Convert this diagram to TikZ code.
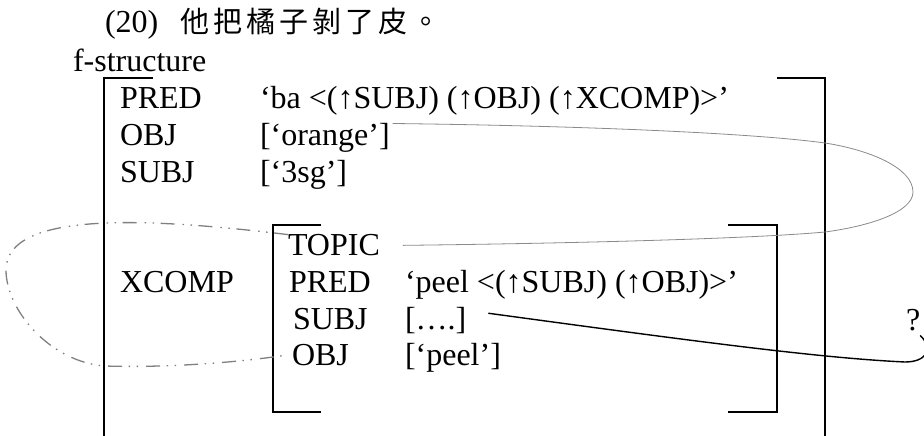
\documentclass[tikz,border=0pt]{standalone}
\usepackage{fontspec}
\setmainfont{Liberation Serif}
\newfontfamily\cjk[LetterSpace=14]{Noto Sans CJK TC}
\newcommand\mainsize{\fontsize{32}{37}\selectfont}
\definecolor{linkgray}{HTML}{8A8A8A}
\definecolor{dashgray}{HTML}{808080}
\begin{document}
\begin{tikzpicture}[x=1pt,y=-1pt,
  txt/.style={anchor=base west,inner sep=0pt,outer sep=0pt,font=\mainsize},
  brk/.style={line width=1.8pt,line join=miter},
  link/.style={draw=linkgray,line width=0.8pt},
  dashlink/.style={draw=dashgray,line width=1.3pt,dash pattern=on 14pt off 6.5pt on 1.5pt off 6.5pt on 1.5pt off 8pt},
  mainlink/.style={draw=black,line width=1.4pt}]
\useasboundingbox (0,0) rectangle (924,436);
% brackets
\draw[brk] (104,436) -- (104,78) -- (153,78);
\draw[brk] (777,78) -- (825,78) -- (825,436);
\draw[brk] (321,225) -- (273,225) -- (273,412) -- (321,412);
\draw[brk] (728,225) -- (777,225) -- (777,412) -- (728,412);
% texts
\node[txt] (title) at (105,33) {(20)\hspace{22pt}{\cjk\fontsize{29}{30}\selectfont 他把橘子剝了皮。}};
\node[txt] (fs) at (73,72) {f-structure};
\node[txt] (pred1) at (120,109) {PRED};
\node[txt] (predv1) at (260,109) {‘ba <(↑SUBJ) (↑OBJ) (↑XCOMP)>’};
\node[txt] (obj1) at (120,145.7) {OBJ};
\node[txt] (objv1) at (260,145.7) {[‘orange’]};
\node[txt] (subj1) at (120,182.4) {SUBJ};
\node[txt] (subjv1) at (260,182.4) {[‘3sg’]};
\node[txt] (topic) at (288,255.8) {TOPIC};
\node[txt] (xcomp) at (120,292.5) {XCOMP};
\node[txt] (pred2) at (289,292.5) {PRED};
\node[txt] (predv2) at (405,292.5) {‘peel <(↑SUBJ) (↑OBJ)>’};
\node[txt] (subj2) at (293,329.2) {SUBJ};
\node[txt] (subjv2) at (405,329.2) {[….]};
\node[txt] (obj2) at (292,365.9) {OBJ};
\node[txt] (objv2) at (405,365.9) {[‘peel’]};
\node[txt] (q) at (906,330) {?};
% connectors
\draw[link] ([xshift=3pt]objv1.north east) .. controls (600,126) and (760,134) .. (825,143)
  .. controls (870,150) and (913,168) .. (913,192)
  .. controls (913,212) and (870,226) .. (825,232)
  .. controls (760,238) and (600,243) .. ([xshift=23pt]topic.east);
\draw[dashlink] (topic.north west) .. controls (150,218) and (6,210) .. (6,270)
  .. controls (6,310) and (50,362) .. (105,366)
  .. controls (170,368) and (240,362) .. ([xshift=-8pt]obj2.west);
\draw[mainlink] ([shift={(22pt,7pt)}]subjv2.east) .. controls (700,342) and (820,358) .. (905,362)
  .. controls (925,362) and (935,350) .. ([yshift=-5pt]q.south east);
\end{tikzpicture}
\end{document}
